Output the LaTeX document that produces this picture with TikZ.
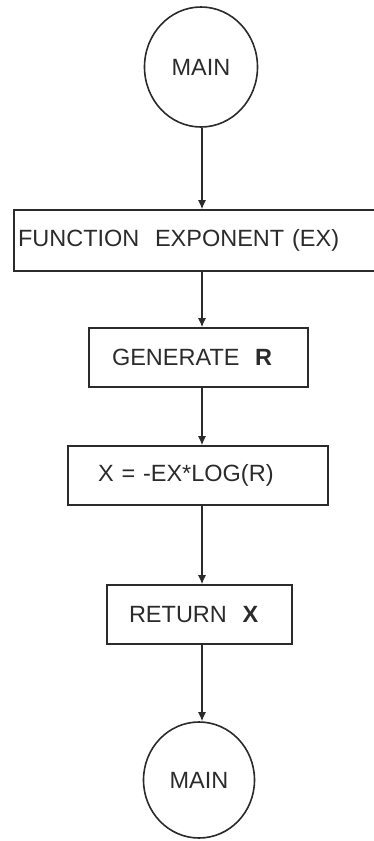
\documentclass[tikz,border=0pt]{standalone}
\usepackage{fontspec}
\setmainfont{Liberation Sans}
\usetikzlibrary{arrows.meta,shapes.geometric}

\definecolor{ink}{HTML}{2B2B2B}

\tikzset{
  stepbox/.style={draw=ink, line width=1.6pt, rectangle, inner ysep=0pt,
    align=left, text=ink, font=\fontsize{23.5}{28}\selectfont},
  endpoint/.style={draw=ink, line width=1.6pt, ellipse, inner sep=0pt,
    text=ink, font=\fontsize{23.5}{28}\selectfont},
  flow/.style={draw=ink, line width=1.3pt,
    -{Latex[length=9pt,width=8pt]}},
}

\begin{document}
\begin{tikzpicture}[x=1pt,y=-1pt]
  \useasboundingbox (0,0) rectangle (374,841);
  \clip (0,0) rectangle (374,841);

  % start and end of the subroutine
  \node[endpoint, minimum width=113pt, minimum height=120pt] (start) at (201,67) {MAIN};
  \node[endpoint, minimum width=111pt, minimum height=116pt] (finish) at (199,780) {MAIN};

  % processing steps
  \node[stepbox, inner xsep=4pt, text width=358pt, minimum height=61pt]
    (func) at (197,240.5) {FUNCTION\ \ EXPONENT (EX)};
  \node[stepbox, inner xsep=23pt, text width=173pt, minimum height=59pt]
    (gen) at (198.5,357.5) {GENERATE\ \ \textbf{R}};
  \node[stepbox, inner xsep=30pt, text width=200pt, minimum height=59pt]
    (calc) at (198,475.5) {X = -EX*LOG(R)};
  \node[stepbox, inner xsep=22pt, text width=141pt, minimum height=59pt]
    (ret) at (199.5,614.5) {RETURN\ \ \textbf{X}};

  % vertical flow line
  \coordinate (axis) at (202,0);
  \draw[flow] (start.south -| axis) -- (func.north -| axis);
  \draw[flow] (func.south -| axis) -- (gen.north -| axis);
  \draw[flow] (gen.south -| axis) -- (calc.north -| axis);
  \draw[flow] (calc.south -| axis) -- (ret.north -| axis);
  \draw[flow] (ret.south -| axis) -- (finish.north -| axis);
\end{tikzpicture}
\end{document}
